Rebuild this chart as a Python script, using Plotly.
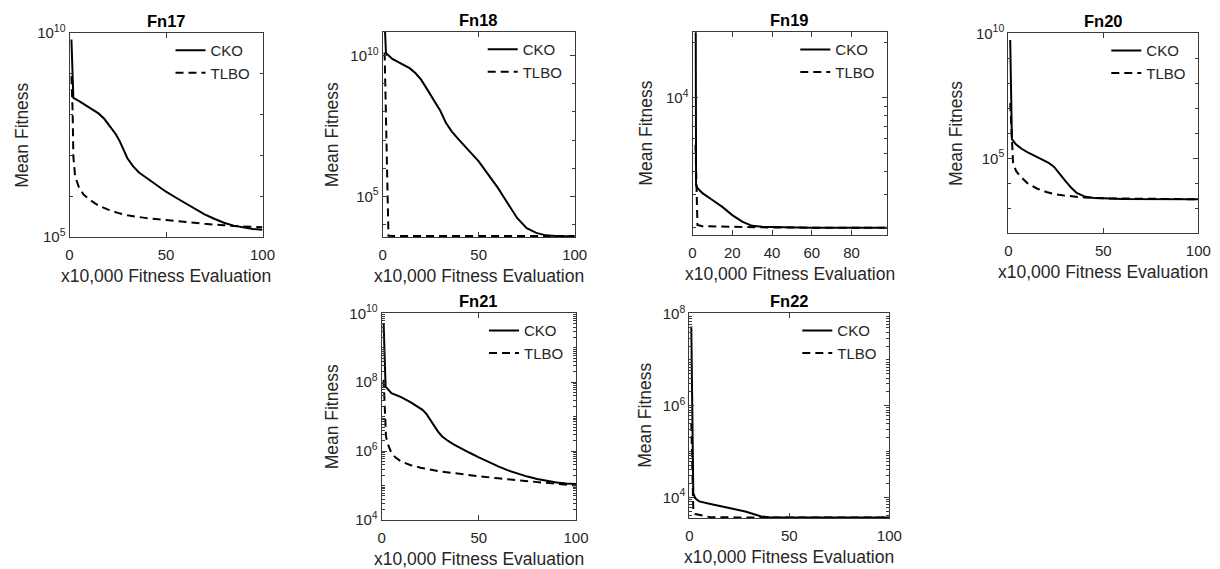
import math
import plotly.graph_objects as go

# ---------------- data ----------------
fn17_cko_x = [1, 1.5, 2, 5, 10, 15, 18, 21, 24, 26, 28, 30, 33, 36, 40, 45, 50, 55, 60, 65, 70,
              75, 80, 85, 90, 95, 100]
fn17_cko_y = [6.9e9, 1.0e9, 2.57e8, 2.14e8, 1.51e8, 1.07e8, 7.9e7, 5.2e7, 3.3e7, 2.24e7, 1.38e7,
              8.5e6, 5.4e6, 3.8e6, 2.8e6, 1.86e6, 1.29e6, 9.3e5, 6.8e5, 4.9e5, 3.6e5, 2.8e5,
              2.24e5, 1.9e5, 1.7e5, 1.58e5, 1.51e5]
fn17_tlbo_x = [1, 1.6, 2, 2.9, 4.7, 7.3, 10, 15, 20, 25, 30, 40, 50, 60, 70, 80, 90, 100]
fn17_tlbo_y = [8.7e8, 1.3e8, 9.3e6, 3.1e6, 1.74e6, 1.1e6, 8.5e5, 5.9e5, 4.7e5, 3.9e5, 3.4e5,
               2.9e5, 2.6e5, 2.3e5, 2.1e5, 1.95e5, 1.8e5, 1.74e5]

fn18_cko_x = [1, 1.7, 5, 10, 14, 17, 20, 23, 26, 30, 33, 36, 40, 45, 50, 55, 60, 65, 70, 75,
              80, 85, 90, 100]
fn18_cko_y = [1.6e11, 1.23e10, 7.6e9, 5.2e9, 3.6e9, 2.4e9, 1.4e9, 6.6e8, 3.0e8, 1.1e8, 4.0e7,
              2.0e7, 9.8e6, 4.0e6, 1.74e6, 5.9e5, 2.0e5, 5.8e4, 1.7e4, 7.4e3, 5.0e3, 4.1e3,
              3.9e3, 3.8e3]
fn18_tlbo_x = [1, 2, 3, 10, 30, 50, 70, 100]
fn18_tlbo_y = [1.3e10, 1.0e7, 3.95e3, 3.9e3, 3.9e3, 3.9e3, 3.9e3, 3.9e3]

fn19_cko_x = [1.5, 1.8, 2.5, 5, 10, 15, 20, 25, 30, 35, 40, 60, 98]
fn19_cko_y = [1.0e5, 3370, 3250, 3050, 2800, 2570, 2320, 2140, 2030, 2005, 2000, 1985, 1985]
fn19_tlbo_x = [1.5, 2.5, 5, 20, 40, 60, 98]
fn19_tlbo_y = [5550, 2050, 2020, 2000, 1990, 1985, 1985]

fn20_cko_x = [1, 1.5, 1.9, 4, 7, 10, 14, 18, 21, 24, 27, 30, 33, 36, 40, 45, 50, 60, 100]
fn20_cko_y = [5.4e9, 2.2e7, 5.8e5, 3.6e5, 2.4e5, 1.78e5, 1.23e5, 9.1e4, 6.8e4, 4.6e4, 2.3e4,
              1.26e4, 6.8e3, 4.1e3, 3.0e3, 2.6e3, 2.5e3, 2.35e3, 2.3e3]
fn20_tlbo_x = [1, 2, 2.5, 4, 6, 10, 15, 20, 25, 30, 40, 50, 100]
fn20_tlbo_y = [1.6e7, 2.0e5, 6.8e4, 3.2e4, 2.0e4, 1.02e4, 6.2e3, 4.5e3, 3.6e3, 3.2e3, 2.7e3,
               2.5e3, 2.3e3]

fn21_cko_x = [1, 1.5, 2, 5, 10, 15, 18, 21, 23, 25, 27, 29, 31, 34, 37, 41, 45, 50, 55, 60, 65,
              70, 75, 80, 85, 90, 95, 100]
fn21_cko_y = [5.1e9, 3.2e8, 7.4e7, 4.8e7, 3.7e7, 2.6e7, 2.0e7, 1.58e7, 1.2e7, 8.1e6, 5.4e6,
              3.7e6, 2.7e6, 2.0e6, 1.58e6, 1.23e6, 9.1e5, 6.6e5, 4.8e5, 3.6e5, 2.75e5, 2.2e5,
              1.82e5, 1.55e5, 1.35e5, 1.23e5, 1.15e5, 1.1e5]
fn21_tlbo_x = [1, 1.7, 2.2, 3, 4, 5, 7, 10, 15, 20, 30, 40, 50, 60, 70, 80, 90, 100]
fn21_tlbo_y = [1.17e8, 1.0e7, 2.7e6, 1.7e6, 1.15e6, 8.7e5, 6.6e5, 5.0e5, 3.9e5, 3.3e5, 2.57e5,
               2.14e5, 1.86e5, 1.62e5, 1.41e5, 1.26e5, 1.12e5, 1.0e5]

fn22_cko_x = [1, 2, 3, 5, 10, 20, 28, 32, 36, 40, 50, 100]
fn22_cko_y = [5.4e7, 1.23e4, 9.5e3, 8.1e3, 7.2e3, 5.8e3, 4.9e3, 4.3e3, 3.8e3, 3.65e3, 3.6e3, 3.6e3]
fn22_tlbo_x = [1, 2, 3, 5, 10, 20, 50, 100]
fn22_tlbo_y = [4.2e5, 5.2e3, 4.3e3, 4.1e3, 3.7e3, 3.63e3, 3.6e3, 3.6e3]

titles = ["Fn17", "Fn18", "Fn19", "Fn20", "Fn21", "Fn22"]
series_names = ["CKO", "TLBO"]
x_label = "x10,000 Fitness Evaluation"
y_label = "Mean Fitness"

fn17_yticks = [1e5, 1e10]
fn18_yticks = [1e5, 1e10]
fn19_yticks = [1e4]
fn20_yticks = [1e5, 1e10]
fn21_yticks = [1e4, 1e6, 1e8, 1e10]
fn22_yticks = [1e4, 1e6, 1e8]
x_ticks_100 = [0, 50, 100]
x_ticks_fn19 = [0, 20, 40, 60, 80]

# ---------------- layout / style ----------------
W, H = 1220, 569
FONT = "Liberation Sans, Arial, sans-serif"
TXT = "#262626"
AX = "#3a3a3a"


def decade_minor(lo, hi, sub):
    vals = []
    for e in range(lo, hi + 1):
        for m in (range(1, 10) if sub else [1]):
            vals.append(m * 10.0 ** e)
    return vals


def sup_label(v):
    return "10<sup>%d</sup>" % round(math.log10(v))


panels = [
    dict(title=titles[0], box=(69.5, 33, 262.5, 237), xr=[0, 100], xt=x_ticks_100,
         yr=[5, 10], yt=fn17_yticks, minor=decade_minor(5, 10, False),
         cko=(fn17_cko_x, fn17_cko_y), tlbo=(fn17_tlbo_x, fn17_tlbo_y), ylab_x=21.7),
    dict(title=titles[1], box=(382.7, 32, 574.7, 237), xr=[0, 100], xt=x_ticks_100,
         yr=[3.554, 10.84], yt=fn18_yticks, minor=decade_minor(3, 11, False),
         cko=(fn18_cko_x, fn18_cko_y), tlbo=(fn18_tlbo_x, fn18_tlbo_y), ylab_x=331.7),
    dict(title=titles[2], box=(692.5, 32.3, 887.3, 235), xr=[0, 98], xt=x_ticks_fn19,
         yr=[3.258, 4.354], yt=fn19_yticks, minor=decade_minor(3, 4, True),
         cko=(fn19_cko_x, fn19_cko_y), tlbo=(fn19_tlbo_x, fn19_tlbo_y), ylab_x=646),
    dict(title=titles[3], box=(1008.3, 33.3, 1198.3, 233.3), xr=[0, 100], xt=x_ticks_100,
         yr=[2, 10], yt=fn20_yticks, minor=decade_minor(2, 10, False),
         cko=(fn20_cko_x, fn20_cko_y), tlbo=(fn20_tlbo_x, fn20_tlbo_y), ylab_x=956.7),
    dict(title=titles[4], box=(381.7, 313.3, 576, 520), xr=[0, 100], xt=x_ticks_100,
         yr=[4, 10], yt=fn21_yticks, minor=decade_minor(4, 10, True),
         cko=(fn21_cko_x, fn21_cko_y), tlbo=(fn21_tlbo_x, fn21_tlbo_y), ylab_x=331.7),
    dict(title=titles[5], box=(689.3, 313.3, 889.3, 518.3), xr=[0, 100], xt=x_ticks_100,
         yr=[3.54, 8.02], yt=fn22_yticks, minor=decade_minor(3, 8, True),
         cko=(fn22_cko_x, fn22_cko_y), tlbo=(fn22_tlbo_x, fn22_tlbo_y), ylab_x=645),
]

fig = go.Figure()
layout = dict(width=W, height=H, margin=dict(l=0, r=0, t=0, b=0, pad=0, autoexpand=False),
              paper_bgcolor="white", plot_bgcolor="white",
              font=dict(family=FONT, color=TXT), showlegend=True, annotations=[])

ax_common = dict(ticks="inside", ticklen=5, tickcolor=AX, showline=True, linecolor=AX,
                 linewidth=1, showgrid=False, zeroline=False, automargin=False,
                 tickfont=dict(size=15, color=TXT, family=FONT))

for i, p in enumerate(panels):
    n = i + 1
    sfx = "" if n == 1 else str(n)
    rn = str(n + 10)  # overlay axis ids for mirrored (right-side) minor ticks
    l, t, r, b = p["box"]
    xa = dict(domain=[l / W, r / W], anchor="y" + sfx, range=p["xr"], tickvals=p["xt"],
              mirror="ticks", ticklabelstandoff=4, **ax_common)
    ya = dict(domain=[1 - b / H, 1 - t / H], anchor="x" + sfx, type="log", range=p["yr"],
              tickvals=p["yt"], ticktext=[sup_label(v) for v in p["yt"]], mirror="ticks",
              minor=dict(tickvals=p["minor"], ticks="inside", ticklen=3, tickcolor=AX,
                         showgrid=False), **ax_common)
    # right-hand twin: only ticks (matches MATLAB box ticks on both sides)
    yr_ax = dict(overlaying="y" + sfx, side="right", anchor="x" + sfx, type="log",
                 range=p["yr"], tickvals=p["yt"], showticklabels=False, automargin=False,
                 minor=dict(tickvals=p["minor"], ticks="inside", ticklen=3, tickcolor=AX,
                            showgrid=False),
                 ticks="inside", ticklen=5, tickcolor=AX, showline=False, showgrid=False,
                 zeroline=False)
    layout["xaxis" + sfx] = xa
    layout["yaxis" + sfx] = ya
    layout["yaxis" + rn] = yr_ax
    lname = "legend" + sfx
    layout[lname] = dict(x=(r - 92) / W, y=1 - (t + 1) / H, xanchor="left", yanchor="top",
                         bgcolor="rgba(0,0,0,0)", borderwidth=0, tracegroupgap=0,
                         font=dict(size=15, color=TXT, family=FONT), itemwidth=30)
    for name, (xs, ys), dash in ((series_names[0], p["cko"], "solid"),
                                  (series_names[1], p["tlbo"], "8px,5px")):
        fig.add_trace(go.Scatter(x=xs, y=ys, mode="lines", name=name,
                                 line=dict(color="black", width=2, dash=dash),
                                 xaxis="x" + sfx, yaxis="y" + sfx, legend=lname))
    cx = (l + r) / 2
    layout["annotations"].append(dict(text="<b>%s</b>" % p["title"], x=cx / W, y=1 - (t - 12) / H,
                                      xref="paper", yref="paper", showarrow=False,
                                      xanchor="center", yanchor="middle",
                                      font=dict(size=16.5, color="black", family=FONT)))
    layout["annotations"].append(dict(text=x_label, x=cx / W, y=1 - (b + 39) / H,
                                      xref="paper", yref="paper", showarrow=False,
                                      xanchor="center", yanchor="middle",
                                      font=dict(size=17.5, color=TXT, family=FONT)))
    layout["annotations"].append(dict(text=y_label, x=p["ylab_x"] / W, y=1 - ((t + b) / 2) / H,
                                      xref="paper", yref="paper", showarrow=False, textangle=-90,
                                      xanchor="center", yanchor="middle",
                                      font=dict(size=17.5, color=TXT, family=FONT)))

fig.update_layout(**layout)
fig.write_html("out.html", config={"displayModeBar": False},
               post_script="document.body.style.margin='0';"
                           "document.documentElement.style.overflow='hidden';")
